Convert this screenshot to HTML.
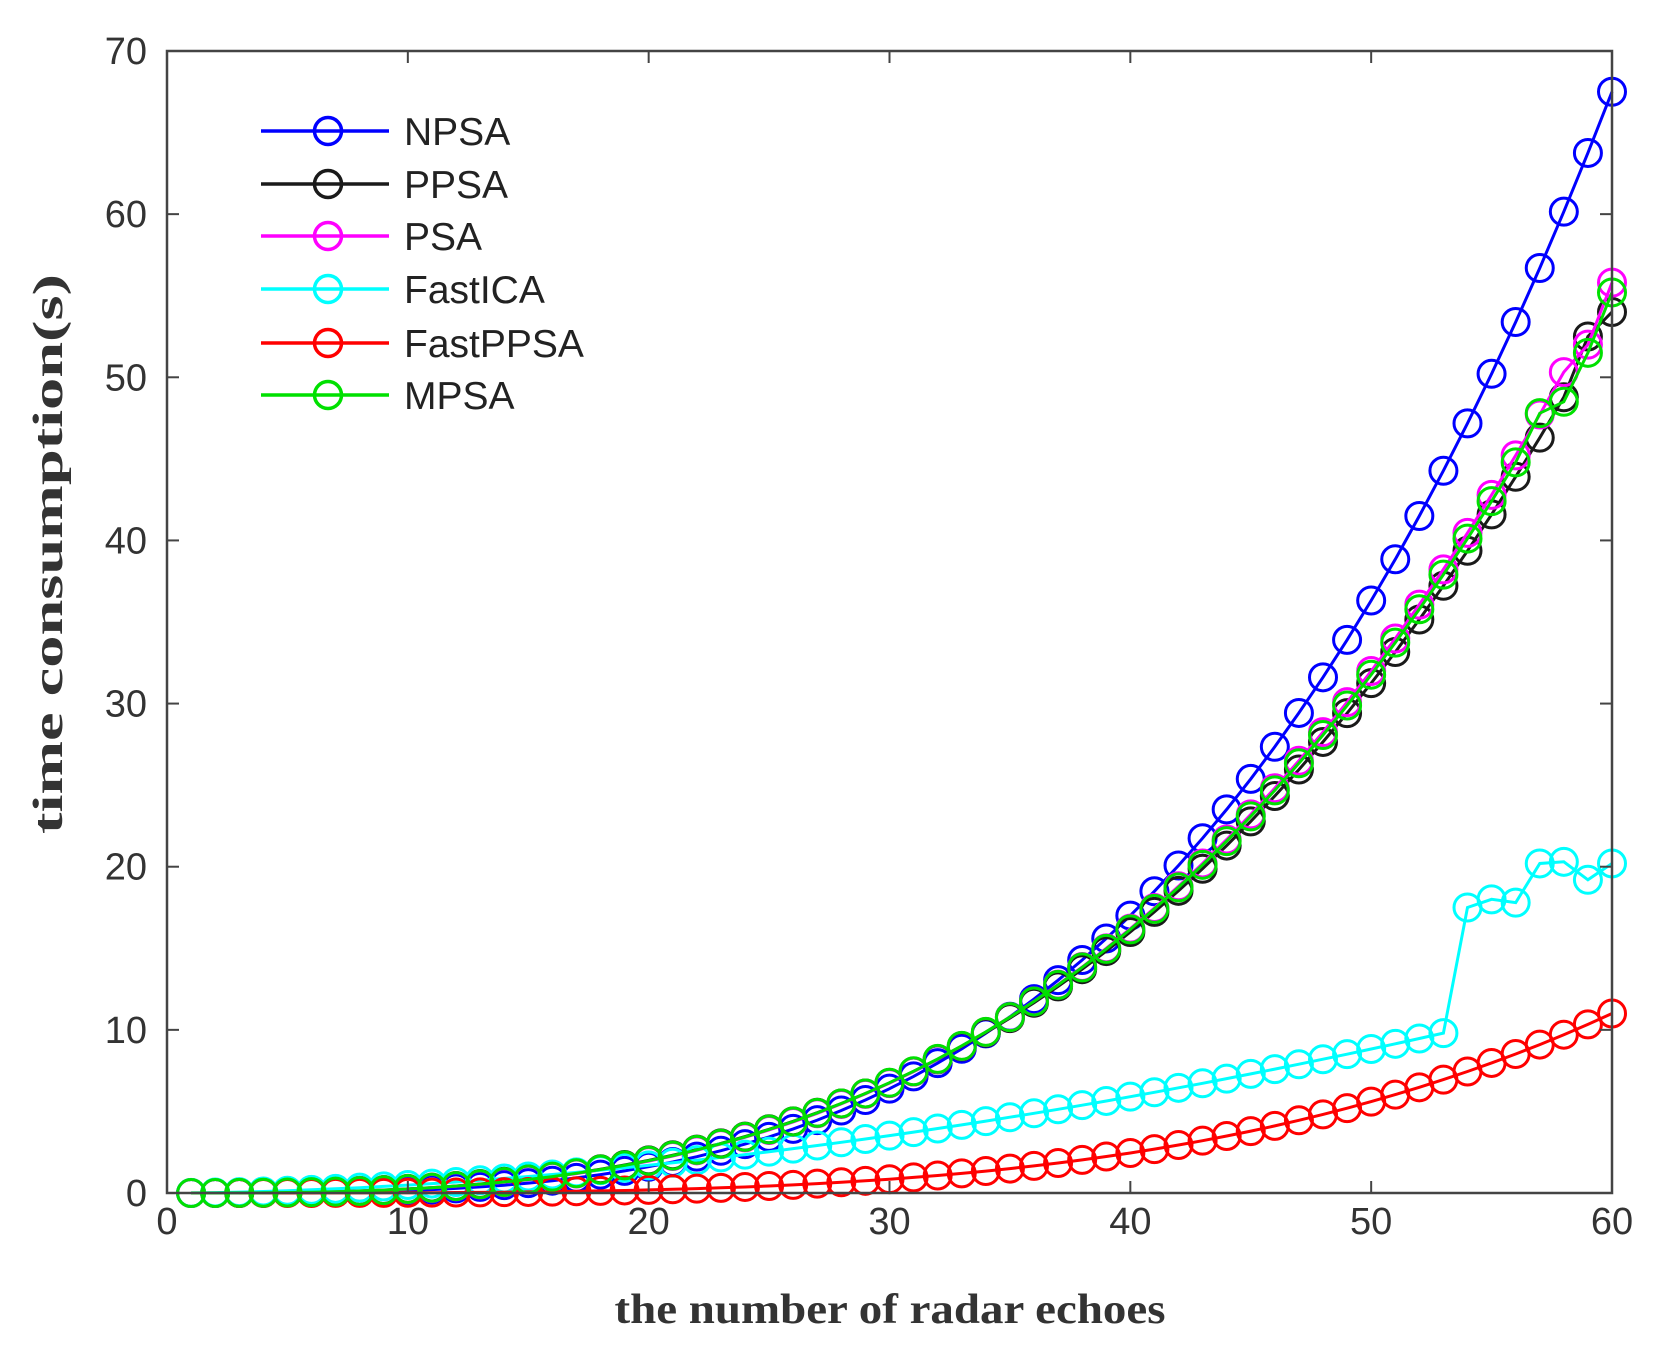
<!DOCTYPE html>
<html><head><meta charset="utf-8"><style>
html,body{margin:0;padding:0;background:#fff;}
svg{display:block;}
</style></head><body>
<svg id="s" width="1665" height="1349" xmlns="http://www.w3.org/2000/svg">
<rect width="1665" height="1349" fill="#fff"/>
<g id="plot"></g>
<rect x="167" y="51" width="1445" height="1142" fill="none" stroke="#444" stroke-width="2.5"/>
<g id="ticks" stroke="#444" stroke-width="2"></g>
<g font-family="Liberation Sans, sans-serif" font-size="38" fill="#333" id="labels"></g>
<text x="890" y="1323" text-anchor="middle" font-family="Liberation Serif, serif" font-weight="bold" font-size="42" fill="#333" textLength="551" lengthAdjust="spacingAndGlyphs">the number of radar echoes</text>
<text transform="translate(62,554) rotate(-90)" text-anchor="middle" font-family="Liberation Serif, serif" font-weight="bold" font-size="42" fill="#333" textLength="560" lengthAdjust="spacingAndGlyphs">time consumption(s)</text>
<g id="legend" font-family="Liberation Sans, sans-serif" font-size="39" fill="#222"></g>
</svg>
<script>
var L=167,R=1612,T=51,B=1193;
function X(v){return L+(R-L)*v/60;}
function Y(v){return B-(B-T)*v/70;}
var NS="http://www.w3.org/2000/svg";
function el(p,n,a,t){var e=document.createElementNS(NS,n);for(var k in a)e.setAttribute(k,a[k]);if(t!==undefined)e.textContent=t;p.appendChild(e);return e;}
var ticks=document.getElementById('ticks'),labels=document.getElementById('labels');
for(var i=0;i<=6;i++){var x=X(i*10);
 el(ticks,'line',{x1:x,y1:B,x2:x,y2:B-12});el(ticks,'line',{x1:x,y1:T,x2:x,y2:T+12});
 el(labels,'text',{x:x,y:1234,'text-anchor':'middle'},String(i*10));}
for(var i=0;i<=7;i++){var y=Y(i*10);
 el(ticks,'line',{x1:L,y1:y,x2:L+12,y2:y});el(ticks,'line',{x1:R,y1:y,x2:R-12,y2:y});
 el(labels,'text',{x:147,y:y+13,'text-anchor':'end'},String(i*10));}
function pw(a,p,x0){var d=[];for(var x=x0;x<=60;x++)d.push([x,a*Math.pow(x/60,p)]);return d;}
var npsa=pw(67.5,3.4,1);
var ppsa=pw(54,3.0,1);ppsa[59-1][1]=52.5;
var psa=pw(55.8,3.05,1);psa[59-1][1]=52;
var mpsa=pw(55.2,3.03,1);mpsa[58-1][1]=48.5;mpsa[57-1][1]=47.8;mpsa[59-1][1]=51.5;
var ica=[];for(var x=1;x<=53;x++)ica.push([x,9.8*Math.pow(x/53,1.8)]);
[[54,17.5],[55,18],[56,17.8],[57,20.2],[58,20.3],[59,19.2],[60,20.2]].forEach(function(p){ica.push(p)});
var fp=pw(11,3.7,3);
var series=[[npsa,'#0000ff','NPSA'],[ppsa,'#1a1a1a','PPSA'],[psa,'#ff00ff','PSA'],[ica,'#00ffff','FastICA'],[fp,'#ff0000','FastPPSA'],[mpsa,'#00e000','MPSA']];
var plot=document.getElementById('plot'),leg=document.getElementById('legend');
series.forEach(function(s,k){
 var pts=s[0].map(function(p){return X(p[0]).toFixed(1)+','+Y(p[1]).toFixed(1)}).join(' ');
 el(plot,'polyline',{points:pts,fill:'none',stroke:s[1],'stroke-width':3});
 s[0].forEach(function(p){el(plot,'circle',{cx:X(p[0]),cy:Y(p[1]),r:13.5,fill:'none',stroke:s[1],'stroke-width':3});});
 var ly=[131,184,236,289,343,395][k];
 el(leg,'line',{x1:261,y1:ly,x2:389,y2:ly,stroke:s[1],'stroke-width':3.5});
 el(leg,'circle',{cx:328,cy:ly,r:13.5,fill:'none',stroke:s[1],'stroke-width':3.5});
 el(leg,'text',{x:404,y:ly+14},s[2]);
});
</script>
</body></html>
